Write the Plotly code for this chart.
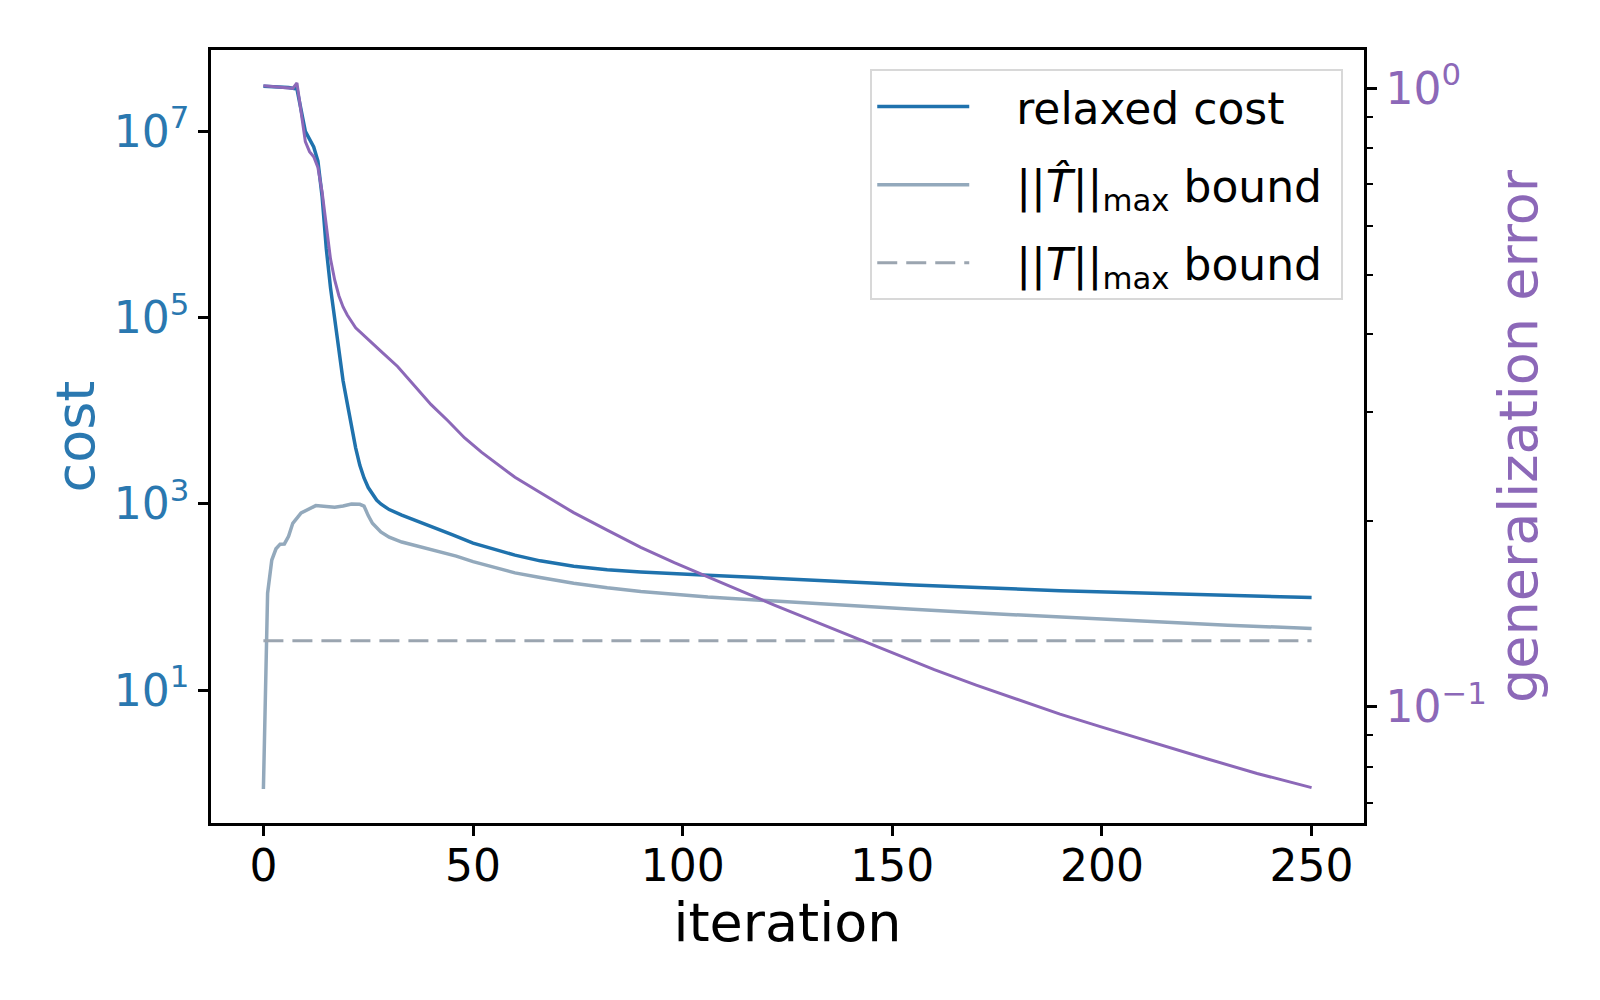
import plotly.graph_objects as go

# relaxed cost (left axis, log)
cost_iter = [0, 3, 6, 8, 10, 12, 13, 14, 15, 16, 17, 18, 19, 20, 21, 22, 23, 24, 25, 26,
             27, 28, 30, 33, 36, 40, 45, 50, 55, 60, 66, 74, 82, 90, 106, 122, 138, 155,
             172, 190, 212, 230, 250]
cost_val = [3.05e7, 3.0e7, 2.95e7, 2.85e7, 1.0e7, 6.8e6, 4.8e6, 2.0e6, 5.5e5, 2.1e5,
            1.0e5, 4.6e4, 2.1e4, 1.2e4, 6.8e3, 4.0e3, 2.6e3, 1.9e3, 1.5e3, 1.26e3,
            1.1e3, 1.0e3, 870, 760, 676, 575, 468, 380, 324, 282, 245, 214, 197, 186,
            172, 158, 146, 135, 126, 117, 110, 104, 99]

# ||T_hat||_max bound
that_iter = [0, 1, 2, 3, 4, 5, 6, 7, 9, 11, 12.5, 15, 17, 19, 21, 23, 24, 25, 26, 28,
             30, 33, 38, 42, 46, 50, 55, 60, 66, 74, 82, 90, 106, 122, 138, 155, 172,
             190, 212, 230, 250]
that_val = [0.87, 110, 250, 330, 370, 372, 450, 620, 800, 900, 960, 940, 920, 950, 1000,
            990, 950, 750, 620, 500, 440, 390, 343, 309, 275, 240, 209, 182, 162, 141,
            126, 115, 100, 90, 82, 74, 67, 61, 54.6, 50, 46]

# ||T||_max bound
t_iter = [0, 250]
t_val = [34, 34]

# generalization error (right axis, log)
gen_iter = [0, 4, 7, 8, 9, 10, 11, 12, 13, 14, 15, 16, 17, 18, 19, 20, 22, 25, 28, 32,
            36, 40, 44, 48, 52, 56, 60, 66, 74, 82, 90, 98, 106, 114, 122, 130, 138,
            143, 150, 160, 170, 180, 190, 200, 212, 225, 237, 250]
gen_val = [1.01, 1.005, 1.0, 1.02, 0.91, 0.82, 0.79, 0.775, 0.745, 0.68, 0.60, 0.53,
           0.49, 0.462, 0.443, 0.430, 0.410, 0.392, 0.376, 0.355, 0.331, 0.308, 0.290,
           0.272, 0.258, 0.246, 0.235, 0.222, 0.206, 0.193, 0.181, 0.171, 0.162, 0.1538,
           0.1459, 0.1387, 0.1318, 0.1276, 0.1222, 0.1148, 0.1084, 0.1026, 0.0973,
           0.0927, 0.0875, 0.0824, 0.0780, 0.0740]

left_ticks = [1e1, 1e3, 1e5, 1e7]
left_text = ["10<sup>1</sup>", "10<sup>3</sup>", "10<sup>5</sup>", "10<sup>7</sup>"]
right_ticks = [0.1, 1.0]
right_text = ["10<sup>\u22121</sup>", "10<sup>0</sup>"]
right_minor = [0.07, 0.08, 0.09, 0.2, 0.3, 0.4, 0.5, 0.6, 0.7, 0.8, 0.9]
x_ticks = [0, 50, 100, 150, 200, 250]

blue = "#1f72ad"
purple = "#8c68b8"
font = "DejaVu Sans"
gap = "\u00a0\u00a0\u00a0"

fig = go.Figure()
fig.add_trace(go.Scatter(x=cost_iter, y=cost_val, name=gap + "relaxed cost", mode="lines",
                         line=dict(color=blue, width=3.5), legendgroup="a"))
fig.add_trace(go.Scatter(x=that_iter, y=that_val, mode="lines",
                         name=gap + "||<i>T\u0302</i>||<sub>max</sub> bound\u00a0",
                         line=dict(color="#93a9bc", width=3.5), legendgroup="b"))
fig.add_trace(go.Scatter(x=t_iter, y=t_val, mode="lines",
                         name=gap + "||<i>T</i>||<sub>max</sub> bound\u00a0",
                         line=dict(color="#9ba5b0", width=3, dash="20px,9px"),
                         legendgroup="c"))
fig.add_trace(go.Scatter(x=gen_iter, y=gen_val, yaxis="y2", mode="lines",
                         line=dict(color=purple, width=3), showlegend=False))

fig.update_layout(
    width=1600, height=1000,
    margin=dict(l=203, r=244, t=42, b=185),
    paper_bgcolor="white", plot_bgcolor="white",
    font=dict(family=font, size=44, color="black"),
    xaxis=dict(range=[-12.5, 262.5], tickvals=x_ticks, showgrid=False, zeroline=False,
               showline=True, linecolor="black", linewidth=2.5, mirror=True,
               ticks="outside", ticklen=10, tickwidth=2.5, tickcolor="black",
               ticklabelstandoff=-8,
               title=dict(text="iteration", font=dict(size=54), standoff=4)),
    yaxis=dict(type="log", range=[-0.425, 7.873], tickvals=left_ticks, ticktext=left_text,
               showgrid=False, zeroline=False, showline=True, linecolor="black",
               linewidth=2.5, mirror=True, ticks="outside", ticklen=10, tickwidth=2.5,
               tickcolor="black", tickfont=dict(color="#2a78b0"),
               title=dict(text="cost", font=dict(size=54, color="#2a78b0"), standoff=2)),
    yaxis2=dict(type="log", range=[-1.188, 0.062], overlaying="y", side="right",
                tickvals=right_ticks, ticktext=right_text, showgrid=False, zeroline=False,
                showline=True, linecolor="black", linewidth=2.5,
                ticks="outside", ticklen=10, tickwidth=2.5, tickcolor="black",
                tickfont=dict(color=purple),
                minor=dict(tickvals=right_minor, ticks="outside", ticklen=6,
                           tickwidth=2, tickcolor="black"),
                title=dict(text="generalization error", font=dict(size=54, color=purple),
                           standoff=14)),
    legend=dict(x=0.982, y=0.975, xanchor="right", yanchor="top",
                bgcolor="rgba(255,255,255,0.8)", bordercolor="#d8d8d8", borderwidth=2,
                font=dict(size=44), tracegroupgap=18, itemwidth=92),
)

fig.write_html("out.html")
